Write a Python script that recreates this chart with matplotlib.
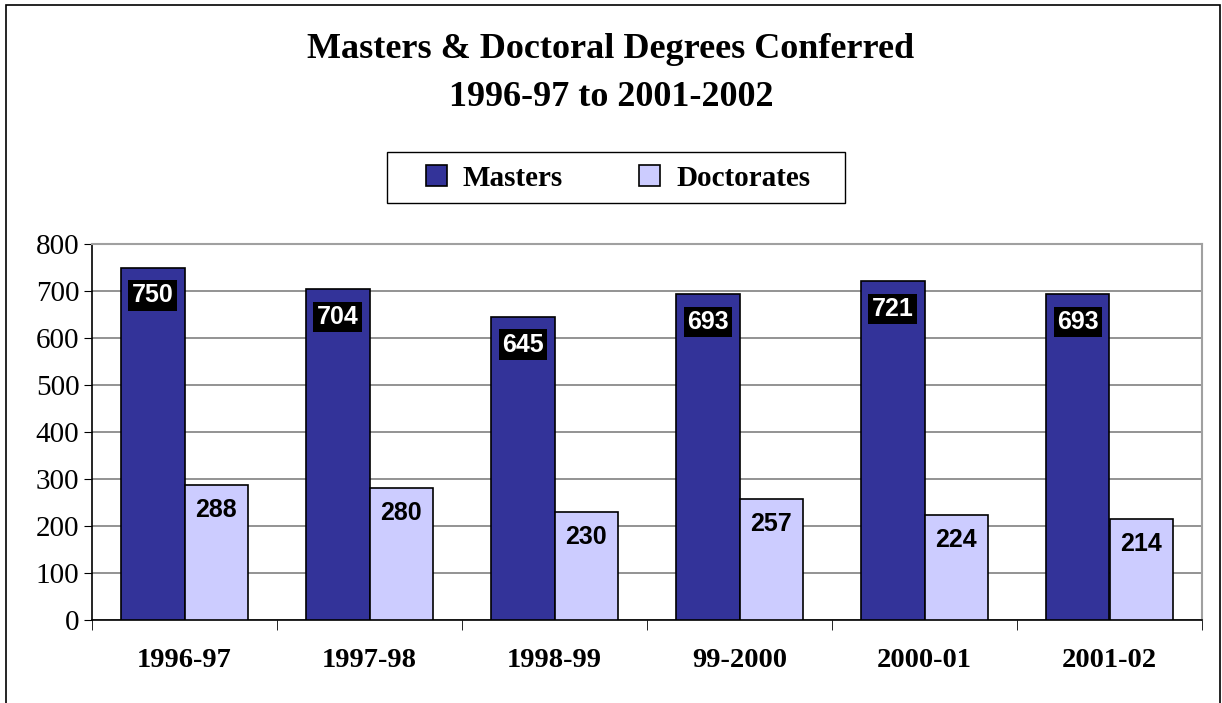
import numpy as np
import matplotlib.pyplot as plt
from matplotlib.patches import Rectangle

## Data
years = ['1996-97', '1997-98', '1998-99', '99-2000', '2000-01', '2001-02']
masters = [750, 704, 645, 693, 721, 693]
doctorates = [288, 280, 230, 257, 224, 214]

W, H = 1222, 703
fig = plt.figure(figsize=(W / 100, H / 100), dpi=100)

# outer frame of the chart
fig.patches.append(Rectangle((6 / W, -0.01), (1220 - 6) / W, 1 - 5 / H + 0.01,
                             transform=fig.transFigure, fill=False,
                             edgecolor='black', linewidth=1.2))

left, right, top, bottom = 92, 1202, 244, 620
ax = fig.add_axes([left / W, 1 - bottom / H, (right - left) / W, (bottom - top) / H])

x = np.arange(len(years))
bw = 0.345
b1 = ax.bar(x - bw / 2, masters, bw, color='#333399', edgecolor='black', linewidth=1.2,
            label='Masters', zorder=3)
b2 = ax.bar(x + bw / 2, doctorates, bw, color='#CCCCFF', edgecolor='black', linewidth=1.2,
            label='Doctorates', zorder=3)

for rect, v in zip(b1, masters):
    ax.annotate(str(v), (rect.get_x() + rect.get_width() / 2, v), xytext=(0, -20),
                textcoords='offset points', ha='center', va='center', fontsize=18,
                fontweight='bold', family='Liberation Sans', color='white', zorder=5,
                bbox=dict(boxstyle='square,pad=0.13', facecolor='black', edgecolor='none'))
for rect, v in zip(b2, doctorates):
    ax.annotate(str(v), (rect.get_x() + rect.get_width() / 2, v), xytext=(0, -18),
                textcoords='offset points', ha='center', va='center', fontsize=18,
                fontweight='bold', family='Liberation Sans', color='black', zorder=5)

ax.set_xlim(-0.5, len(years) - 0.5)
ax.set_ylim(0, 800)
ax.set_yticks(range(0, 801, 100))
ax.set_yticklabels([str(v) for v in range(0, 801, 100)], family='Liberation Serif', fontsize=21)
ax.set_xticks(x)
ax.set_xticklabels(years, family='Liberation Serif', fontsize=20.5, fontweight='bold')
ax.set_xticks(np.arange(-0.5, len(years)), minor=True)
ax.tick_params(axis='x', which='major', length=0, pad=20)
ax.tick_params(axis='x', which='minor', length=7, direction='out', color='black')
ax.tick_params(axis='y', length=6, direction='out', color='black', pad=3)
ax.yaxis.grid(True, color='#808080', linewidth=1.2, zorder=0)
ax.set_axisbelow(True)
for s in ['top', 'right']:
    ax.spines[s].set_color('#a0a0a0')
    ax.spines[s].set_linewidth(1.5)
for s in ['left', 'bottom']:
    ax.spines[s].set_color('black')
    ax.spines[s].set_linewidth(1.2)

fig.text(0.5, 1 - 50 / H, 'Masters & Doctoral Degrees Conferred', ha='center', va='center',
         family='Liberation Serif', fontweight='bold', fontsize=26)
fig.text(0.5, 1 - 98 / H, '1996-97 to 2001-2002', ha='center', va='center',
         family='Liberation Serif', fontweight='bold', fontsize=26)

# legend without its own frame; the box is drawn separately to get the wide side padding
leg = fig.legend(handles=[b1, b2], loc='center', bbox_to_anchor=(618 / W, 1 - 178 / H),
                 ncol=2, frameon=False,
                 prop={'family': 'Liberation Serif', 'weight': 'bold', 'size': 21},
                 handlelength=0.72, handleheight=0.72, columnspacing=2.6, borderpad=0,
                 handletextpad=0.55, borderaxespad=0)
fig.patches.append(Rectangle((387 / W, 1 - 203 / H), (845 - 387) / W, (203 - 152) / H,
                             transform=fig.transFigure, fill=False,
                             edgecolor='black', linewidth=1.0))

fig.savefig('out.png', dpi=100)
